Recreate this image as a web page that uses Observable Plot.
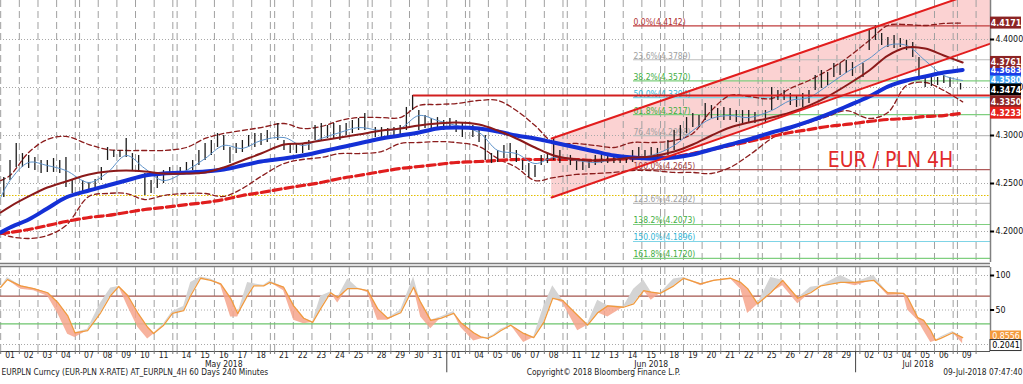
<!DOCTYPE html>
<html><head><meta charset="utf-8">
<script src="https://cdn.jsdelivr.net/npm/d3@7"></script>
<script src="https://cdn.jsdelivr.net/npm/@observablehq/plot@0.6"></script>
<style>
html,body{margin:0;padding:0;background:#fff;width:1023px;height:384px;overflow:hidden}
#main{position:absolute;left:0;top:0}
#lower{position:absolute;left:0;top:262px}
</style></head><body>
<div id="main"></div><div id="lower"></div>
<script>
// ---------------- data ----------------
const tradingDays = ["2018-05-01","2018-05-02","2018-05-03","2018-05-04",
"2018-05-07","2018-05-08","2018-05-09","2018-05-10","2018-05-11",
"2018-05-14","2018-05-15","2018-05-16","2018-05-17","2018-05-18",
"2018-05-21","2018-05-22","2018-05-23","2018-05-24","2018-05-25",
"2018-05-28","2018-05-29","2018-05-30","2018-05-31","2018-06-01",
"2018-06-04","2018-06-05","2018-06-06","2018-06-07","2018-06-08",
"2018-06-11","2018-06-12","2018-06-13","2018-06-14","2018-06-15",
"2018-06-18","2018-06-19","2018-06-20","2018-06-21","2018-06-22",
"2018-06-25","2018-06-26","2018-06-27","2018-06-28","2018-06-29",
"2018-07-02","2018-07-03","2018-07-04","2018-07-05","2018-07-06",
"2018-07-09"];

// price bars per trading day: [high, low]
const barHL = [
[[4.2562,4.2354],[4.2740,4.2531],[4.2917,4.2667]],
[[4.2812,4.2667],[4.2792,4.2656],[4.2771,4.2635]],
[[4.2740,4.2604],[4.2740,4.2615],[4.2760,4.2615]],
[[4.2740,4.2604],[4.2771,4.2458],[4.2531,4.2396]],
[[4.2531,4.2396],[4.2510,4.2406],[4.2542,4.2427]],
[[4.2667,4.2531],[4.2875,4.2740],[4.2844,4.2771]],
[[4.2844,4.2771],[4.2969,4.2771],[4.2812,4.2635]],
[[4.2792,4.2635],[4.2604,4.2375],[4.2531,4.2396]],
[[4.2583,4.2448],[4.2635,4.2500],[4.2667,4.2604]],
[[4.2667,4.2604],[4.2719,4.2635],[4.2740,4.2635]],
[[4.2844,4.2687],[4.2917,4.2740],[4.2948,4.2792]],
[[4.3021,4.2875],[4.3000,4.2844],[4.2875,4.2708]],
[[4.2917,4.2812],[4.2948,4.2823],[4.3000,4.2875]],
[[4.3021,4.2875],[4.3021,4.2896],[4.3052,4.2927]],
[[4.3125,4.2948],[4.2948,4.2844],[4.2917,4.2812]],
[[4.2917,4.2812],[4.2917,4.2812],[4.2948,4.2844]],
[[4.3104,4.2948],[4.3125,4.2948],[4.3104,4.2969]],
[[4.3125,4.2969],[4.3104,4.2948],[4.3125,4.3000]],
[[4.3156,4.3021],[4.3177,4.3052],[4.3229,4.3052]],
[[4.3083,4.2979],[4.3083,4.2979],[4.3073,4.2990]],
[[4.3083,4.2979],[4.3104,4.3000],[4.3292,4.3052]],
[[4.3417,4.3260],[4.3260,4.3052],[4.3208,4.3073]],
[[4.3177,4.3052],[4.3187,4.3073],[4.3156,4.3052]],
[[4.3177,4.3073],[4.3156,4.3031],[4.3125,4.2979]],
[[4.3104,4.2979],[4.3052,4.2927],[4.3000,4.2740]],
[[4.2812,4.2708],[4.2844,4.2719],[4.2896,4.2760]],
[[4.2917,4.2760],[4.2844,4.2719],[4.2740,4.2635]],
[[4.2708,4.2562],[4.2687,4.2562],[4.2792,4.2687]],
[[4.2812,4.2708],[4.2969,4.2740],[4.2844,4.2708]],
[[4.2792,4.2687],[4.2740,4.2635],[4.2740,4.2635]],
[[4.2740,4.2656],[4.2792,4.2687],[4.2812,4.2708]],
[[4.2812,4.2708],[4.2792,4.2708],[4.2771,4.2708]],
[[4.2771,4.2708],[4.2844,4.2719],[4.2875,4.2740]],
[[4.2844,4.2740],[4.2875,4.2740],[4.2865,4.2760]],
[[4.2948,4.2792],[4.3052,4.2844],[4.3104,4.2948]],
[[4.3187,4.3021],[4.3229,4.3083],[4.3208,4.3083]],
[[4.3333,4.3156],[4.3312,4.3177],[4.3281,4.3156]],
[[4.3292,4.3156],[4.3281,4.3156],[4.3260,4.3135]],
[[4.3260,4.3125],[4.3260,4.3135],[4.3240,4.3125]],
[[4.3260,4.3135],[4.3500,4.3260],[4.3469,4.3365]],
[[4.3469,4.3365],[4.3437,4.3312],[4.3417,4.3292]],
[[4.3437,4.3292],[4.3469,4.3333],[4.3625,4.3469]],
[[4.3677,4.3490],[4.3656,4.3521],[4.3750,4.3604]],
[[4.3750,4.3625],[4.3781,4.3646],[4.3760,4.3615]],
[[4.3750,4.3604],[4.4094,4.3885],[4.4142,4.3990]],
[[4.4062,4.3938],[4.4021,4.3917],[4.4042,4.3906]],
[[4.4010,4.3917],[4.3990,4.3885],[4.3969,4.3812]],
[[4.3812,4.3573],[4.3604,4.3500],[4.3604,4.3510]],
[[4.3604,4.3521],[4.3625,4.3542],[4.3604,4.3500]],
[[4.3542,4.3474]]
];

// indicator values: chart start, each trading day (mid-day), last bar
const maBlue = [4.1990, 4.2042,4.2125,4.2240,4.2354,4.2427, 4.2479,4.2531,4.2583,4.2604,4.2615, 4.2625,4.2646,4.2687,4.2729,4.2760, 4.2792,4.2833,4.2875,4.2917,4.2969, 4.3000,4.3031,4.3073,4.3083,4.3073, 4.3042,4.3000,4.2969,4.2927,4.2875, 4.2833,4.2792,4.2771,4.2760,4.2771, 4.2802,4.2854,4.2906,4.2958,4.3031, 4.3083,4.3146,4.3219,4.3302,4.3406, 4.3510,4.3573,4.3615,4.3656, 4.3683];
const maDarkRed = [4.2198, 4.2260,4.2365,4.2458,4.2521,4.2594, 4.2625,4.2635,4.2625,4.2604,4.2604, 4.2615,4.2667,4.2740,4.2812,4.2906, 4.2917,4.2948,4.2979,4.3010,4.3052, 4.3073,4.3104,4.3125,4.3135,4.3115, 4.3052,4.2969,4.2875,4.2792,4.2750, 4.2740,4.2750,4.2771,4.2781,4.2833, 4.2906,4.3000,4.3083,4.3135,4.3187, 4.3240,4.3312,4.3406,4.3521,4.3677, 4.3833,4.3917,4.3906,4.3833, 4.3761];
const maThin = [4.2354, 4.2531,4.2719,4.2687,4.2635,4.2510, 4.2615,4.2792,4.2656,4.2531,4.2635, 4.2760,4.2896,4.2865,4.2948,4.2979, 4.2896,4.2969,4.3031,4.3083,4.3052, 4.3073,4.3208,4.3156,4.3104,4.3031, 4.2844,4.2812,4.2708,4.2771,4.2740, 4.2719,4.2750,4.2771,4.2792,4.2896, 4.3052,4.3177,4.3208,4.3187,4.3260, 4.3365,4.3396,4.3521,4.3656,4.3802, 4.3938,4.3938,4.3781,4.3625, 4.3573];
const maRedDash = [4.1979, 4.1990,4.2021,4.2062,4.2104,4.2146, 4.2167,4.2198,4.2229,4.2250,4.2281, 4.2302,4.2333,4.2375,4.2406,4.2448, 4.2479,4.2510,4.2552,4.2583,4.2625, 4.2656,4.2677,4.2698,4.2719,4.2729, 4.2740,4.2750,4.2750,4.2750,4.2750, 4.2740,4.2750,4.2760,4.2771,4.2781, 4.2812,4.2854,4.2896,4.2937,4.2990, 4.3031,4.3062,4.3094,4.3115,4.3146, 4.3167,4.3177,4.3198,4.3208, 4.3233];
const bbUpper = [4.2531, 4.2583,4.2823,4.2958,4.2990,4.2906, 4.2854,4.2844,4.2844,4.2844,4.2875, 4.2969,4.3021,4.3052,4.3083,4.3125, 4.3073,4.3094,4.3156,4.3187,4.3187, 4.3187,4.3312,4.3323,4.3333,4.3365, 4.3365,4.3260,4.3104,4.2927,4.2917, 4.2896,4.2875,4.2927,4.2927,4.2948, 4.3021,4.3260,4.3417,4.3406,4.3385, 4.3490,4.3573,4.3677,4.3802,4.3990, 4.4146,4.4156,4.4146,4.4167, 4.4171];
const bbLower = [4.1979, 4.1948,4.1927,4.1958,4.2062,4.2365, 4.2396,4.2396,4.2333,4.2375,4.2396, 4.2396,4.2365,4.2448,4.2573,4.2708, 4.2750,4.2771,4.2812,4.2812,4.2833, 4.2917,4.2927,4.2937,4.2927,4.2885, 4.2760,4.2667,4.2531,4.2562,4.2594, 4.2604,4.2615,4.2635,4.2635,4.2615, 4.2615,4.2604,4.2667,4.2792,4.2969, 4.3073,4.3135,4.3198,4.3260,4.3177, 4.3240,4.3521,4.3552,4.3469, 4.3350];
const lastBarTime = 49.28; // trading-day units

// Fibonacci retracement
const fibLevels = [0, 23.6, 38.2, 50, 61.8, 76.4, 100, 123.6, 138.2, 150, 161.8];
const fibValues = [4.4142, 4.3789, 4.3570, 4.3394, 4.3217, 4.2998, 4.2645, 4.2292, 4.2073, 4.1896, 4.1720];
const fibStart = 32.55;
// trend channel (two anchor times) and horizontal levels
const channel = [{t: 28.39, hi: 4.2969, lo: 4.2354}, {t: 50.77, hi: 4.4542, lo: 4.3958}];
const resistance = {t: 21.2, v: 4.3417};
const yellowLevel = 4.2375;

// right-hand value labels
const valueBoxes = [
  {v: 4.4171, fill: "#8c2424"},
  {v: 4.3580, fill: "#3a9ef2"},
  {v: 4.3683, fill: "#1c3ce8"},
  {v: 4.3761, fill: "#8c2424"},
  {v: 4.3474, fill: "#000000"},
  {v: 4.3350, fill: "#8c2424"},
  {v: 4.3233, fill: "#e4221c"}
];
const priceTicks = [4.20, 4.25, 4.30, 4.35, 4.40];

// stochastic: [time, %D, %K]
const stoch = [[0.0,83,83],[0.36,94,97],[1.07,85,80],[1.77,81,78],[2.52,75,70],[3.06,61,45],[3.59,42,15],[3.98,17,10],[4.43,20,22],[5.13,46,60],[5.67,71,82],[6.10,84,84],[6.58,71,55],[7.12,46,25],[7.65,25,8],[7.97,16,15],[8.51,28,30],[8.98,45,48],[9.35,49,55],[9.73,71,90],[10.26,96,98],[10.80,93,95],[11.34,88,85],[11.87,67,40],[12.25,45,40],[12.78,71,90],[13.11,85,88],[13.64,85,86],[13.98,90,92],[14.48,83,78],[15.02,56,35],[15.56,38,30],[16.04,32,33],[16.47,52,70],[17.0,75,76],[17.38,68,60],[17.92,81,95],[18.45,81,82],[18.99,78,75],[19.29,52,35],[19.83,38,35],[20.53,46,50],[21.22,83,98],[21.60,61,40],[22.14,35,23],[22.67,38,40],[23.37,45,48],[23.74,32,25],[24.21,17,5],[24.59,11,8],[24.96,9,10],[25.28,13,14],[25.66,20,22],[26.2,28,28],[26.89,16,3],[27.43,10,11],[27.97,32,55],[28.45,67,85],[28.98,64,60],[29.56,42,20],[30.09,28,30],[30.63,46,64],[31.17,56,40],[32.02,54,55],[32.56,59,80],[33.1,78,93],[33.5,76,64],[33.98,74,74],[34.48,85,95],[35.01,96,97],[35.92,88,85],[36.62,93,92],[37.53,96,95],[38.07,90,80],[38.44,81,45],[38.98,59,58],[39.45,75,97],[40.09,93,85],[40.9,67,59],[41.59,75,83],[42.13,85,85],[43.2,90,100],[43.98,90,85],[44.74,93,100],[45.49,75,71],[46.35,74,72],[46.56,68,50],[47.1,39,35],[47.42,35,20],[47.8,20,3],[48.06,6,5],[48.33,9,11],[48.98,17,19],[49.28,10,1]];
const stochLevels = [{v: 70, c: "#a4544c"}, {v: 30, c: "#6cc46c"}];
const stochTicks = [0, 50, 100];
const stochBoxes = [{v: 11.6, text: "0.8556", fill: "#f39a3c", color: "#fff", stroke: "none"},
                    {v: -1.5, text: "0.2041", fill: "#ffffff", color: "#000", stroke: "#333"}];

const footerLeft = "EURPLN Curncy (EUR-PLN X-RATE) AT_EURPLN_4H 60 Days 240 Minutes";
const footerMid = "Copyright\u00A9 2018 Bloomberg Finance L.P.";
const footerRight = "09-Jul-2018 07:47:40";
const title = "EUR / PLN 4H";

// ---------------- layout ----------------
const FONT = '"Liberation Sans Narrow","DejaVu Sans Condensed","Liberation Sans",Arial,sans-serif';
const W = 1023, MR = 33, KPX = 18.65, GAP = 0.23, X0 = -0.01;
const XMAX = X0 + (W - MR) / KPX;

const week = [];
{ let w = 0;
  tradingDays.forEach((s, i) => {
    if (i > 0 && (Date.parse(s) - Date.parse(tradingDays[i - 1])) / 864e5 > 1) w++;
    week.push(w);
  });
}
const P = t => { const d = Math.max(0, Math.min(tradingDays.length - 1, Math.floor(t))); return t + GAP * week[d]; };

const bars = barHL.flatMap((bs, d) => bs.map((b, j) => ({t: d + (j + 0.5) / 3, hi: b[0], lo: b[1]})));
const lineT = [0, ...d3.range(tradingDays.length - 1).map(d => d + 0.5), lastBarTime];
const series = arr => arr.map((v, i) => ({t: lineT[i], v}));

const gridSet = new Set();
tradingDays.forEach((s, d) => { gridSet.add(+(d + GAP * week[d]).toFixed(4)); gridSet.add(+(d + 1 + GAP * week[d]).toFixed(4)); });
const gridX = [...gridSet];

const parse = d3.utcParse("%Y-%m-%d");
const dayRows = tradingDays.map((s, d) => ({c: P(d + 0.5), label: s.slice(8)}));
const monthGroups = d3.groups(tradingDays.map((s, d) => ({d, m: d3.utcFormat("%b %Y")(parse(s))})), r => r.m);
const monthRows = monthGroups.map(([m, rows]) => ({name: m, c: (P(rows[0].d) + P(rows[rows.length - 1].d) + 1) / 2,
  end: P(rows[rows.length - 1].d) + 1}));

const fibColors = ["#c03c3c","#bdbdbd","#7fcf7f","#7fd4e6","#7fcf7f","#bdbdbd","#b05a5a","#bdbdbd","#7fcf7f","#7fd4e6","#7fcf7f"];
const fibText = ["#b03030","#a0a0a0","#3fae3f","#33b5d5","#3fae3f","#a0a0a0","#a04040","#a0a0a0","#3fae3f","#33b5d5","#3fae3f"];
const fibs = fibLevels.map((l, i) => ({label: l.toFixed(1) + "%(" + fibValues[i].toFixed(4) + ")", v: fibValues[i], c: fibColors[i], tc: fibText[i]}));

const X = r => P(r.t);
const boxW = 31 / KPX;

const main = Plot.plot({
  width: W, height: 262, marginLeft: 0, marginRight: MR, marginTop: 0, marginBottom: 0,
  x: {domain: [X0, XMAX], axis: null},
  y: {domain: [4.440625 - 262 / 960, 4.440625], axis: null},
  style: {fontFamily: FONT, background: "transparent"},
  marks: [
    Plot.areaY(channel, {x: X, y1: "lo", y2: "hi", fill: "#fbd2d2", clip: true}),
    Plot.ruleX(gridX, {stroke: "#a0a0a0", strokeDasharray: "7,4", strokeWidth: 1}),
    Plot.ruleY(priceTicks, {stroke: "#a8a8a8", strokeDasharray: "1,2"}),
    Plot.ruleY([yellowLevel], {stroke: "#e3bf00", strokeDasharray: "1.5,1.5", strokeWidth: 1.2}),
    Plot.ruleY(fibs, {y: "v", x1: () => P(fibStart), x2: () => XMAX, stroke: "c", strokeWidth: 1.2}),
    Plot.text(fibs, {x: () => P(fibStart), y: "v", text: "label", fill: "tc", textAnchor: "start", lineAnchor: "bottom", dy: -1, fontSize: 8.5}),
    Plot.line(series(bbUpper), {x: X, y: "v", stroke: "#8b1c1c", strokeWidth: 1.3, strokeDasharray: "5,3", curve: "catmull-rom"}),
    Plot.line(series(bbLower), {x: X, y: "v", stroke: "#8b1c1c", strokeWidth: 1.3, strokeDasharray: "5,3", curve: "catmull-rom"}),
    Plot.line(series(maRedDash), {x: X, y: "v", stroke: "#e01e1e", strokeWidth: 3.2, strokeDasharray: "8,4", curve: "catmull-rom"}),
    Plot.ruleX(bars, {x: X, y1: "lo", y2: "hi", stroke: "#1c1c1c", strokeWidth: 1.3}),
    Plot.line(series(maThin), {x: X, y: "v", stroke: "#5d92c9", strokeWidth: 1, curve: "catmull-rom"}),
    Plot.line(series(maBlue), {x: X, y: "v", stroke: "#1430d6", strokeWidth: 4, curve: "catmull-rom"}),
    Plot.line(series(maDarkRed), {x: X, y: "v", stroke: "#8b1a1a", strokeWidth: 2, curve: "catmull-rom"}),
    Plot.line(channel, {x: X, y: "hi", stroke: "#e21d1d", strokeWidth: 2, clip: true}),
    Plot.line(channel, {x: X, y: "lo", stroke: "#e21d1d", strokeWidth: 2, clip: true}),
    Plot.ruleY([resistance], {y: "v", x1: () => P(resistance.t), x2: () => XMAX, stroke: "#d21f1f", strokeWidth: 2}),
    Plot.text([{t: 45.64, v: 4.2740}], {x: X, y: "v", text: () => title, fill: "#e22a2a", fontSize: 21}),
    Plot.ruleX([XMAX], {stroke: "#808080", strokeWidth: 1.5}),
    Plot.ruleY(priceTicks, {x1: () => XMAX, x2: () => XMAX + 0.22, stroke: "#000", strokeWidth: 2}),
    Plot.text(priceTicks, {y: d => d, text: d => d.toFixed(4), frameAnchor: "right", dx: 5, textAnchor: "start", fontSize: 8.8, fill: "#111"}),
    Plot.rect(valueBoxes, {x1: () => XMAX, x2: () => XMAX + boxW, y1: "v", y2: "v", insetTop: -6, insetBottom: -6, fill: "fill"}),
    Plot.text(valueBoxes, {x: () => XMAX + boxW / 2, y: "v", text: d => d.v.toFixed(4), fill: "#fff", fontSize: 8.8, fontWeight: "bold"})
  ]
});
document.getElementById("main").appendChild(main);

const st = stoch.map(([t, d, k]) => ({t, d, k}));
const lower = Plot.plot({
  width: W, height: 122, marginLeft: 0, marginRight: MR, marginTop: 5, marginBottom: 33,
  x: {domain: [X0, XMAX], axis: null},
  y: {domain: [-10.14, 111.59], axis: null},
  style: {fontFamily: FONT, background: "transparent"},
  marks: [
    Plot.ruleY([111.59], {dy: -1, stroke: "#7c7c7c", strokeWidth: 1.6}),
    Plot.ruleY([111.59], {dy: -4, stroke: "#7c7c7c", strokeWidth: 1.6}),
    Plot.ruleX(gridX, {stroke: "#a0a0a0", strokeDasharray: "7,4", strokeWidth: 1}),
    Plot.ruleY(stochTicks, {stroke: "#a8a8a8", strokeDasharray: "1,2"}),
    Plot.ruleY(stochLevels, {y: "v", stroke: "c", strokeWidth: 1.2}),
    Plot.areaY(st, {x: X, y1: "d", y2: r => Math.min(r.k, r.d), fill: "#f6a48c", fillOpacity: 0.85}),
    Plot.areaY(st, {x: X, y1: "d", y2: r => Math.max(r.k, r.d), fill: "#d4d4d4"}),
    Plot.line(st, {x: X, y: "d", stroke: "#f09a3e", strokeWidth: 1.3}),
    Plot.ruleY([-10.14], {stroke: "#555", strokeWidth: 1}),
    Plot.ruleX(gridX, {y1: -10.14, y2: -14.5, stroke: "#777"}),
    Plot.ruleX(monthRows.slice(0, -1), {x: "end", y1: -10.14, y2: -41, stroke: "#444"}),
    Plot.ruleX([XMAX], {y1: -10.14, y2: 111.59, stroke: "#808080", strokeWidth: 1.5}),
    Plot.ruleY(stochTicks, {x1: () => XMAX, x2: () => XMAX + 0.22, stroke: "#000", strokeWidth: 2}),
    Plot.text(stochTicks.filter(v => v > 0), {y: d => d, text: d => String(d), frameAnchor: "right", dx: 5, textAnchor: "start", fontSize: 8.8, fill: "#111"}),
    Plot.rect(stochBoxes, {x1: () => XMAX, x2: () => XMAX + boxW, y1: "v", y2: "v", insetTop: -5.5, insetBottom: -5.5, fill: "fill", stroke: "stroke"}),
    Plot.text(stochBoxes, {x: () => XMAX + boxW / 2, y: "v", text: "text", fill: "color", fontSize: 8.8}),
    Plot.text(dayRows, {x: "c", text: "label", frameAnchor: "bottom", dy: 6, fontSize: 8.5, fill: "#222"}),
    Plot.text(monthRows, {x: "c", text: "name", frameAnchor: "bottom", dy: 15.5, fontSize: 8.5, fill: "#222"}),
    Plot.text([footerLeft], {text: d => d, frameAnchor: "bottom-left", dx: 1, dy: 23, textAnchor: "start", fontSize: 8.3, fill: "#222"}),
    Plot.text([footerMid], {text: d => d, frameAnchor: "bottom", dx: 108, dy: 23, fontSize: 8.3, fill: "#222"}),
    Plot.text([footerRight], {text: d => d, frameAnchor: "bottom-right", dx: 32, dy: 23, textAnchor: "end", fontSize: 8.3, fill: "#222"})
  ]
});
document.getElementById("lower").appendChild(lower);
</script>
</body></html>
